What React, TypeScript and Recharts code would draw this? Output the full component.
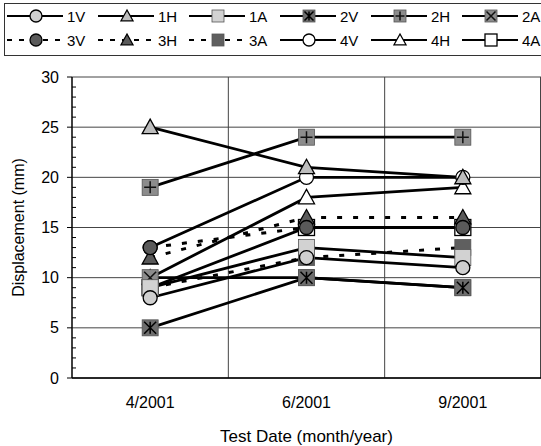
import { LineChart, Line, XAxis, YAxis, CartesianGrid, Legend } from 'recharts';

const categories = ['4/2001', '6/2001', '9/2001'];

// displacement (mm) per sensor, read at each test date
const s1V = [8, 12, 11];
const s1H = [25, 21, 20];
const s1A = [9, 13, 12];
const s2V = [5, 10, 9];
const s2H = [19, 24, 24];
const s2A = [10, 10, 9];
const s3V = [13, 15, 15];
const s3H = [12, 16, 16];
const s3A = [9, 12, 13];
const s4V = [13, 20, 20];
const s4H = [10, 18, 19];
const s4A = [9, 15, 15];

const Y_MAX = 30;
const yMajorTicks = [0, 5, 10, 15, 20, 25, 30];
const yAllTicks = Array.from({ length: 31 }, (_, i) => i);

type Shape = 'circle' | 'triangle' | 'square' | 'squareStar' | 'squarePlus' | 'squareX';

type Series = {
  key: string;
  values: number[];
  shape: Shape;
  fill: string;
  dashed: boolean;
};

const series: Series[] = [
  { key: '1V', values: s1V, shape: 'circle', fill: '#cfcfcf', dashed: false },
  { key: '1H', values: s1H, shape: 'triangle', fill: '#bdbdbd', dashed: false },
  { key: '1A', values: s1A, shape: 'square', fill: '#d2d2d2', dashed: false },
  { key: '2V', values: s2V, shape: 'squareStar', fill: '#6e6e6e', dashed: false },
  { key: '2H', values: s2H, shape: 'squarePlus', fill: '#8c8c8c', dashed: false },
  { key: '2A', values: s2A, shape: 'squareX', fill: '#8c8c8c', dashed: false },
  { key: '3V', values: s3V, shape: 'circle', fill: '#5a5a5a', dashed: true },
  { key: '3H', values: s3H, shape: 'triangle', fill: '#5a5a5a', dashed: true },
  { key: '3A', values: s3A, shape: 'square', fill: '#5f5f5f', dashed: true },
  { key: '4V', values: s4V, shape: 'circle', fill: '#ffffff', dashed: false },
  { key: '4H', values: s4H, shape: 'triangle', fill: '#ffffff', dashed: false },
  { key: '4A', values: s4A, shape: 'square', fill: '#ffffff', dashed: false },
];

const data = categories.map((date, i) => {
  const row: Record<string, string | number> = { date };
  series.forEach((s) => {
    row[s.key] = s.values[i];
  });
  return row;
});

const FONT = '"Liberation Sans", Arial, sans-serif';
const TICK_SIZE = 5;
const TICK_MARGIN = 8;

function Marker({ shape, fill, cx, cy, r }: { shape: Shape; fill: string; cx: number; cy: number; r: number }) {
  const white = fill === '#ffffff';
  if (shape === 'circle') {
    return <circle cx={cx} cy={cy} r={r} fill={fill} stroke="#000" strokeWidth={1.3} />;
  }
  if (shape === 'triangle') {
    const pts = `${cx},${cy - r} ${cx + r},${cy + r * 0.8} ${cx - r},${cy + r * 0.8}`;
    return <polygon points={pts} fill={fill} stroke="#000" strokeWidth={1.3} />;
  }
  const sq = (
    <rect
      x={cx - r}
      y={cy - r}
      width={r * 2}
      height={r * 2}
      fill={fill}
      stroke={white ? '#000' : '#555'}
      strokeWidth={white ? 1.3 : 0.8}
    />
  );
  const d = r * 0.75;
  if (shape === 'squareX') {
    return (
      <g>
        {sq}
        <path d={`M${cx - d},${cy - d}L${cx + d},${cy + d}M${cx + d},${cy - d}L${cx - d},${cy + d}`} stroke="#111" strokeWidth={1.5} />
      </g>
    );
  }
  if (shape === 'squarePlus') {
    return (
      <g>
        {sq}
        <path d={`M${cx},${cy - d}L${cx},${cy + d}M${cx - d},${cy}L${cx + d},${cy}`} stroke="#111" strokeWidth={1.5} />
      </g>
    );
  }
  if (shape === 'squareStar') {
    return (
      <g>
        {sq}
        <path
          d={`M${cx - d},${cy - d}L${cx + d},${cy + d}M${cx + d},${cy - d}L${cx - d},${cy + d}M${cx},${cy - d}L${cx},${cy + d}`}
          stroke="#000"
          strokeWidth={1.5}
        />
      </g>
    );
  }
  return sq;
}

// major ticks point outward with a label, minor ones are short marks inside the plot
const YTick = (props: any) => {
  const { x, y, payload } = props;
  const axisX = x + TICK_SIZE + TICK_MARGIN;
  const major = payload.value % 5 === 0;
  if (!major) {
    return <line x1={axisX} x2={axisX + 4} y1={y} y2={y} stroke="#000" strokeWidth={1} />;
  }
  return (
    <g>
      <line x1={axisX - TICK_SIZE} x2={axisX} y1={y} y2={y} stroke="#000" strokeWidth={1} />
      <text x={x} y={y} dy="0.35em" textAnchor="end" fontSize={16} fontFamily={FONT} fill="#000">
        {payload.value}
      </text>
    </g>
  );
};

const LegendBox = () => (
  <svg width={560} height={54} style={{ display: 'block' }}>
    <rect x={0.5} y={0.5} width={570} height={52} fill="#fff" stroke="#333" />
    {series.map((s, i) => {
      const col = i % 6;
      const row = Math.floor(i / 6);
      const x0 = 3 + col * 91;
      const y = 13 + row * 24;
      return (
        <g key={s.key}>
          <line
            x1={x0}
            x2={x0 + 56}
            y1={y}
            y2={y}
            stroke="#000"
            strokeWidth={2}
            strokeDasharray={s.dashed ? '5 7' : undefined}
          />
          <Marker shape={s.shape} fill={s.fill} cx={x0 + 29} cy={y} r={6} />
          <text x={x0 + 60} y={y + 5.5} fontSize={15} fontFamily={FONT} fill="#000">
            {s.key}
          </text>
        </g>
      );
    })}
  </svg>
);

// the original draws the last series first, so 1V ends up on top
const drawOrder = [...series].reverse();

export default function App() {
  return (
    <div style={{ position: 'absolute', left: 0, top: 0, width: 541, height: 446, overflow: 'hidden', background: '#fff' }}>
      <LineChart width={541} height={446} data={data} margin={{ top: 77, right: 0, bottom: 0, left: 0 }}>
        <CartesianGrid
          stroke="#444"
          strokeWidth={1}
          horizontalCoordinatesGenerator={({ offset }: any) =>
            yMajorTicks.map((t) => offset.top + offset.height * (1 - t / Y_MAX))
          }
          verticalCoordinatesGenerator={({ offset }: any) => [
            offset.left + offset.width / 3,
            offset.left + (offset.width * 2) / 3,
            offset.left + offset.width - 0.5,
          ]}
        />
        <XAxis
          dataKey="date"
          scale="band"
          height={68}
          tickLine={false}
          tickSize={6}
          tickMargin={13}
          axisLine={{ stroke: '#000', strokeWidth: 1.5 }}
          tick={{ fontSize: 16, fill: '#000', fontFamily: FONT }}
          label={{
            value: 'Test Date (month/year)',
            position: 'insideBottom',
            offset: 4,
            fontSize: 17,
            fill: '#000',
            fontFamily: FONT,
          }}
        />
        <YAxis
          width={72}
          domain={[0, Y_MAX]}
          ticks={yAllTicks}
          interval={0}
          tickSize={TICK_SIZE}
          tickMargin={TICK_MARGIN}
          axisLine={{ stroke: '#000', strokeWidth: 1.5 }}
          tickLine={false}
          tick={<YTick />}
          label={{
            content: ({ viewBox }: any) => {
              const x = viewBox.x + 18;
              const y = viewBox.y + viewBox.height / 2;
              return (
                <text
                  x={x}
                  y={y}
                  transform={`rotate(-90 ${x} ${y})`}
                  textAnchor="middle"
                  dominantBaseline="central"
                  fontSize={16}
                  fontFamily={FONT}
                  fill="#000"
                >
                  Displacement (mm)
                </text>
              );
            },
          }}
        />
        <Legend
          verticalAlign="middle"
          layout="horizontal"
          wrapperStyle={{ left: 4, top: 3, width: 560 }}
          content={() => <LegendBox />}
        />
        {drawOrder.map((s) => (
          <Line
            key={s.key}
            dataKey={s.key}
            name={s.key}
            stroke="#000"
            strokeWidth={s.dashed ? 3 : 2.8}
            strokeDasharray={s.dashed ? '5 11' : undefined}
            isAnimationActive={false}
            dot={(p: any) => (
              <Marker
                key={`${s.key}-${p.index}`}
                shape={s.shape}
                fill={s.fill}
                cx={p.cx}
                cy={p.cy}
                r={s.shape === 'circle' ? 7 : 8}
              />
            )}
            activeDot={false}
          />
        ))}
      </LineChart>
    </div>
  );
}
